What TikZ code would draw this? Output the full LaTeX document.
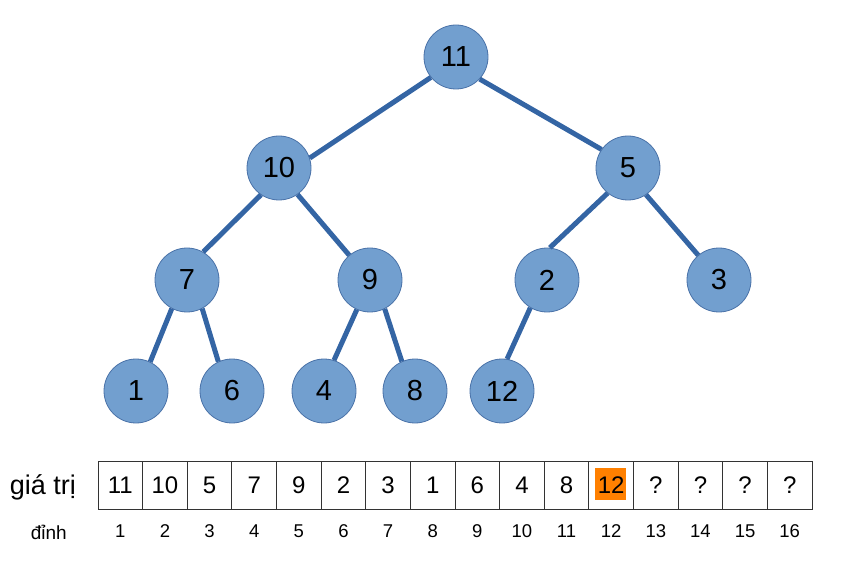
\documentclass[tikz,border=0pt]{standalone}
\usepackage{fontspec}
\setmainfont{Liberation Sans}
\definecolor{nodefill}{HTML}{729FCF}
\definecolor{nodeline}{HTML}{4A72A8}
\definecolor{edgecol}{HTML}{3465A4}
\definecolor{hl}{HTML}{FF8000}
\tikzset{
  hnode/.style={circle,fill=nodefill,draw=nodeline,line width=0.8pt,minimum size=64pt,inner sep=0pt,font=\fontsize{29}{29}\selectfont},
  hedge/.style={draw=edgecol,line width=5pt},
  cell/.style={draw=black!80,line width=1pt,minimum width=44.625pt,minimum height=48pt,inner sep=0pt},
  celltext/.style={font=\fontsize{24}{24}\selectfont,inner sep=0pt},
  idx/.style={font=\fontsize{18.5}{18.5}\selectfont,inner sep=0pt}
}
\begin{document}
\begin{tikzpicture}[x=1pt,y=-1pt]
\useasboundingbox (0,0) rectangle (852,564);
\node[hnode] (n1) at (456,57) {11};
\node[hnode] (n2) at (279,168) {10};
\node[hnode] (n3) at (628,168) {5};
\node[hnode] (n4) at (187,280) {7};
\node[hnode] (n5) at (370,280) {9};
\node[hnode] (n6) at (547,280) {2};
\node[hnode] (n7) at (719,280) {3};
\node[hnode] (n8) at (136,391) {1};
\node[hnode] (n9) at (232,391) {6};
\node[hnode] (n10) at (324,391) {4};
\node[hnode] (n11) at (415,391) {8};
\node[hnode] (n12) at (502,391) {12};
\draw[hedge] (n1.219) -- (n2.18);
\draw[hedge] (n1.317) -- (n3.145);
\draw[hedge] (n2.236) -- (n4.60);
\draw[hedge] (n2.305) -- (n5.130);
\draw[hedge] (n3.231) -- (n6.85);
\draw[hedge] (n3.304) -- (n7.130);
\draw[hedge] (n4.242) -- (n8.64);
\draw[hedge] (n4.298) -- (n9.115);
\draw[hedge] (n5.246) -- (n10.72);
\draw[hedge] (n5.297) -- (n11.114);
\draw[hedge] (n6.239) -- (n12.81);
\foreach \i in {1,...,16} {
  \node[cell] (c\i) at ({98+44.625*(\i-0.5)},485) {};
  \node[idx] (i\i) at ({98+44.625*(\i-0.5)},531) {\i};
}
\fill[hl] (595,468) rectangle (626,500);
\foreach \v [count=\i] in {11,10,5,7,9,2,3,1,6,4,8,12,?,?,?,?}
  \node[celltext] (v\i) at (c\i) {\v};
\node[font=\fontsize{27}{27}\selectfont,inner sep=0pt,anchor=east] (lab) at (76,487) {giá trị};
\node[font=\fontsize{19}{19}\selectfont,inner sep=0pt,anchor=east] (lab2) at (67,532) {đỉnh};
\end{tikzpicture}
\end{document}
